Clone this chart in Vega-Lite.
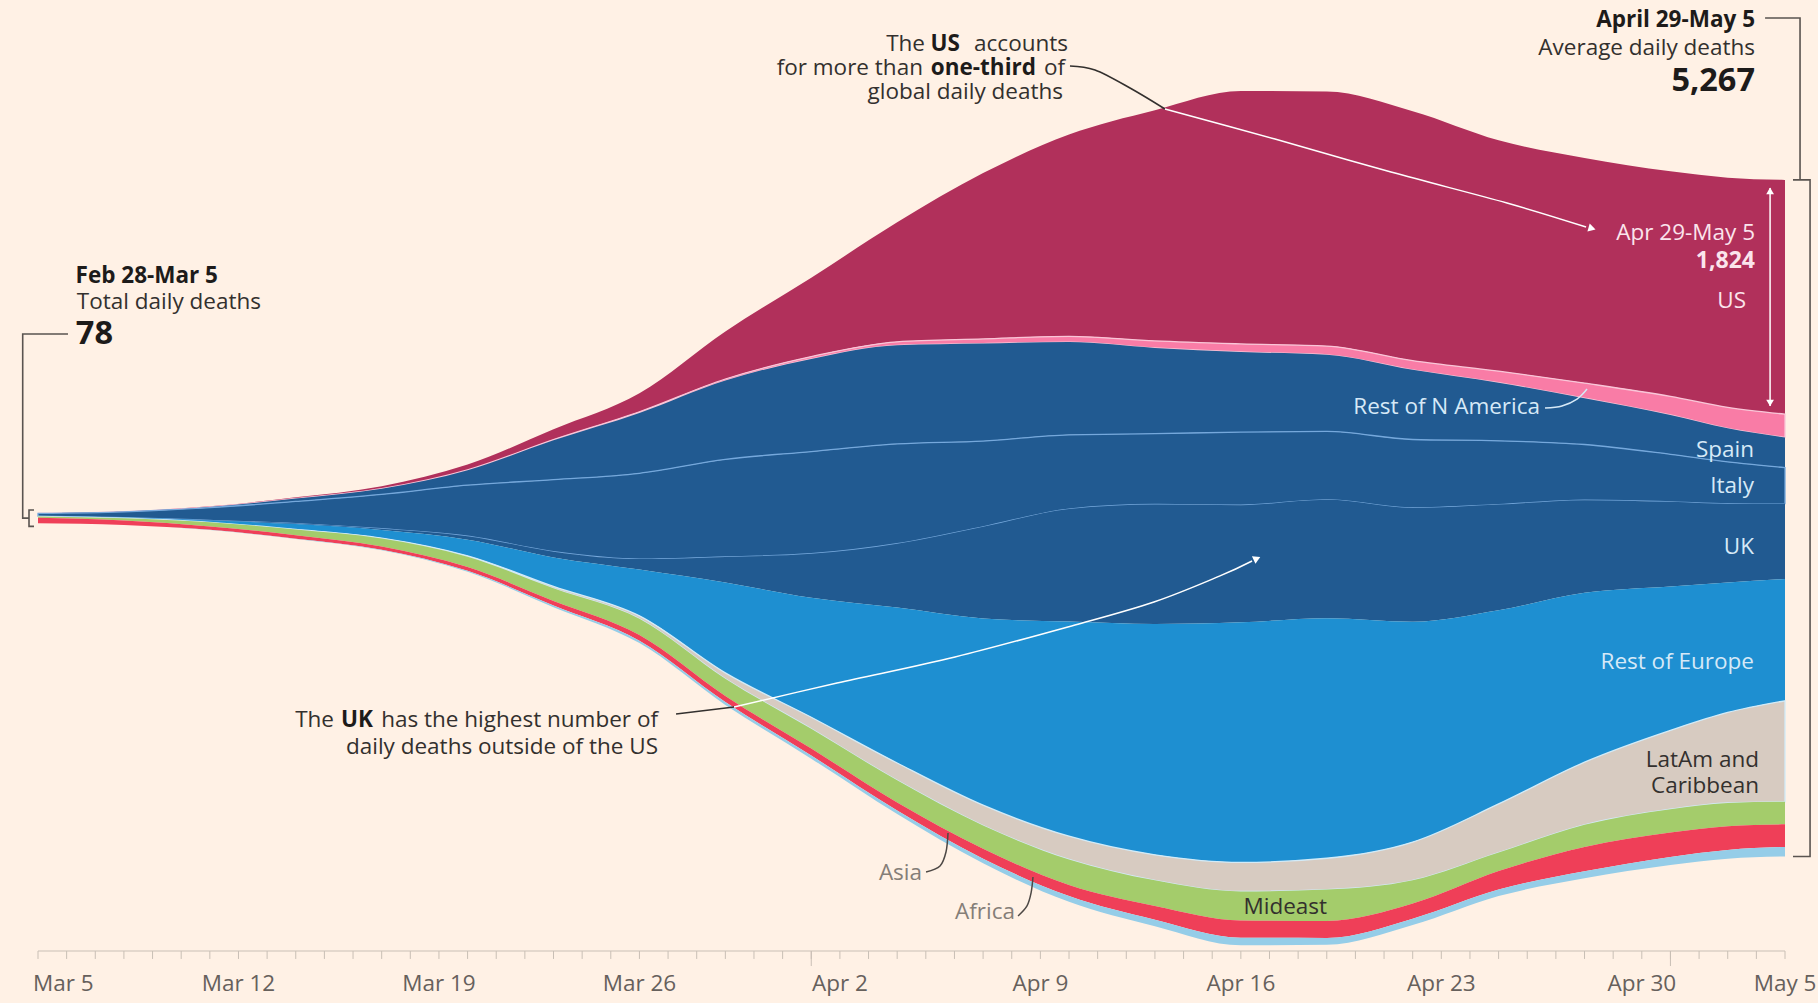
{
  "$schema": "https://vega.github.io/schema/vega-lite/v6.json",
  "width": 1747,
  "height": 860,
  "autosize": {"type": "none"},
  "padding": {"left": 38, "top": 91, "right": 33, "bottom": 52},
  "background": "#fff1e5",
  "config": {"view": {"stroke": null}, "text": {"font": "Open Sans"}},
  "datasets": {
    "deaths": [
      {"date": "2020-03-05", "US": 2, "RestNA": 0, "Spain": 0, "Italy": 21, "UK": 0, "RestEur": 2, "LatAm": 0, "Mideast": 11, "Asia": 42, "Africa": 0},
      {"date": "2020-03-08", "US": 2, "RestNA": 0, "Spain": 1, "Italy": 45, "UK": 0, "RestEur": 5, "LatAm": 0, "Mideast": 18, "Asia": 34, "Africa": 0},
      {"date": "2020-03-11", "US": 5, "RestNA": 0, "Spain": 5, "Italy": 99, "UK": 1, "RestEur": 14, "LatAm": 0, "Mideast": 32, "Asia": 27, "Africa": 1},
      {"date": "2020-03-14", "US": 9, "RestNA": 0, "Spain": 23, "Italy": 172, "UK": 4, "RestEur": 41, "LatAm": 1, "Mideast": 45, "Asia": 27, "Africa": 2},
      {"date": "2020-03-17", "US": 20, "RestNA": 0, "Spain": 45, "Italy": 267, "UK": 9, "RestEur": 63, "LatAm": 3, "Mideast": 63, "Asia": 25, "Africa": 4},
      {"date": "2020-03-20", "US": 41, "RestNA": 2, "Spain": 117, "Italy": 397, "UK": 27, "RestEur": 126, "LatAm": 7, "Mideast": 81, "Asia": 29, "Africa": 7},
      {"date": "2020-03-23", "US": 81, "RestNA": 5, "Spain": 307, "Italy": 560, "UK": 45, "RestEur": 226, "LatAm": 14, "Mideast": 99, "Asia": 36, "Africa": 12},
      {"date": "2020-03-26", "US": 144, "RestNA": 9, "Spain": 470, "Italy": 668, "UK": 81, "RestEur": 361, "LatAm": 23, "Mideast": 126, "Asia": 45, "Africa": 18},
      {"date": "2020-03-29", "US": 370, "RestNA": 12, "Spain": 614, "Italy": 759, "UK": 199, "RestEur": 704, "LatAm": 45, "Mideast": 135, "Asia": 47, "Africa": 22},
      {"date": "2020-04-01", "US": 614, "RestNA": 18, "Spain": 722, "Italy": 795, "UK": 343, "RestEur": 930, "LatAm": 90, "Mideast": 154, "Asia": 54, "Africa": 24},
      {"date": "2020-04-04", "US": 930, "RestNA": 27, "Spain": 768, "Italy": 777, "UK": 497, "RestEur": 1210, "LatAm": 135, "Mideast": 172, "Asia": 63, "Africa": 27},
      {"date": "2020-04-07", "US": 1291, "RestNA": 36, "Spain": 759, "Italy": 668, "UK": 713, "RestEur": 1454, "LatAm": 158, "Mideast": 181, "Asia": 77, "Africa": 36},
      {"date": "2020-04-10", "US": 1571, "RestNA": 45, "Spain": 722, "Italy": 578, "UK": 876, "RestEur": 1671, "LatAm": 181, "Mideast": 199, "Asia": 86, "Africa": 45},
      {"date": "2020-04-13", "US": 1797, "RestNA": 54, "Spain": 668, "Italy": 551, "UK": 930, "RestEur": 1797, "LatAm": 199, "Mideast": 199, "Asia": 108, "Africa": 50},
      {"date": "2020-04-16", "US": 1969, "RestNA": 63, "Spain": 623, "Italy": 569, "UK": 912, "RestEur": 1869, "LatAm": 226, "Mideast": 226, "Asia": 135, "Africa": 59},
      {"date": "2020-04-19", "US": 1982, "RestNA": 68, "Spain": 596, "Italy": 533, "UK": 921, "RestEur": 1869, "LatAm": 244, "Mideast": 244, "Asia": 132, "Africa": 54},
      {"date": "2020-04-22", "US": 1941, "RestNA": 72, "Spain": 542, "Italy": 533, "UK": 885, "RestEur": 1716, "LatAm": 298, "Mideast": 181, "Asia": 117, "Africa": 50},
      {"date": "2020-04-25", "US": 1797, "RestNA": 90, "Spain": 452, "Italy": 497, "UK": 822, "RestEur": 1508, "LatAm": 379, "Mideast": 144, "Asia": 144, "Africa": 50},
      {"date": "2020-04-28", "US": 1752, "RestNA": 117, "Spain": 361, "Italy": 433, "UK": 722, "RestEur": 1318, "LatAm": 488, "Mideast": 172, "Asia": 190, "Africa": 54},
      {"date": "2020-05-01", "US": 1752, "RestNA": 144, "Spain": 307, "Italy": 370, "UK": 659, "RestEur": 1120, "LatAm": 614, "Mideast": 181, "Asia": 190, "Africa": 63},
      {"date": "2020-05-03", "US": 1788, "RestNA": 163, "Spain": 262, "Italy": 325, "UK": 614, "RestEur": 1011, "LatAm": 704, "Mideast": 181, "Asia": 185, "Africa": 68},
      {"date": "2020-05-05", "US": 1824, "RestNA": 181, "Spain": 235, "Italy": 280, "UK": 587, "RestEur": 948, "LatAm": 786, "Mideast": 176, "Asia": 176, "Africa": 74}
    ],
    "regions": [
      {"region": "Africa", "rank": 1},
      {"region": "Asia", "rank": 2},
      {"region": "Mideast", "rank": 3},
      {"region": "LatAm", "rank": 4},
      {"region": "RestEur", "rank": 5},
      {"region": "UK", "rank": 6},
      {"region": "Italy", "rank": 7},
      {"region": "Spain", "rank": 8},
      {"region": "RestNA", "rank": 9},
      {"region": "US", "rank": 10}
    ],
    "days": [
      {"t": "2020-03-05"}, {"t": "2020-03-06"}, {"t": "2020-03-07"}, {"t": "2020-03-08"}, {"t": "2020-03-09"}, {"t": "2020-03-10"}, {"t": "2020-03-11"}, {"t": "2020-03-12"}, {"t": "2020-03-13"}, {"t": "2020-03-14"},
      {"t": "2020-03-15"}, {"t": "2020-03-16"}, {"t": "2020-03-17"}, {"t": "2020-03-18"}, {"t": "2020-03-19"}, {"t": "2020-03-20"}, {"t": "2020-03-21"}, {"t": "2020-03-22"}, {"t": "2020-03-23"}, {"t": "2020-03-24"},
      {"t": "2020-03-25"}, {"t": "2020-03-26"}, {"t": "2020-03-27"}, {"t": "2020-03-28"}, {"t": "2020-03-29"}, {"t": "2020-03-30"}, {"t": "2020-03-31"}, {"t": "2020-04-01"}, {"t": "2020-04-02"}, {"t": "2020-04-03"},
      {"t": "2020-04-04"}, {"t": "2020-04-05"}, {"t": "2020-04-06"}, {"t": "2020-04-07"}, {"t": "2020-04-08"}, {"t": "2020-04-09"}, {"t": "2020-04-10"}, {"t": "2020-04-11"}, {"t": "2020-04-12"}, {"t": "2020-04-13"},
      {"t": "2020-04-14"}, {"t": "2020-04-15"}, {"t": "2020-04-16"}, {"t": "2020-04-17"}, {"t": "2020-04-18"}, {"t": "2020-04-19"}, {"t": "2020-04-20"}, {"t": "2020-04-21"}, {"t": "2020-04-22"}, {"t": "2020-04-23"},
      {"t": "2020-04-24"}, {"t": "2020-04-25"}, {"t": "2020-04-26"}, {"t": "2020-04-27"}, {"t": "2020-04-28"}, {"t": "2020-04-29"}, {"t": "2020-04-30"}, {"t": "2020-05-01"}, {"t": "2020-05-02"}, {"t": "2020-05-03"},
      {"t": "2020-05-04"}, {"t": "2020-05-05"}
    ]
  },
  "layer": [
    {
      "data": {"name": "deaths"},
      "transform": [
        {"fold": ["US", "RestNA", "Spain", "Italy", "UK", "RestEur", "LatAm", "Mideast", "Asia", "Africa"], "as": ["region", "deaths"]},
        {"lookup": "region", "from": {"data": {"name": "regions"}, "key": "region", "fields": ["rank"]}}
      ],
      "mark": {"type": "area", "interpolate": "monotone", "strokeWidth": 1.3},
      "encoding": {
        "x": {"field": "date", "type": "temporal", "scale": {"type": "utc", "domain": [1583366400000, 1588636800000]}, "axis": null},
        "y": {
          "field": "deaths", "type": "quantitative", "stack": "center",
          "scale": {"domain": [-44, 6651], "nice": false, "zero": false},
          "axis": null
        },
        "color": {
          "field": "region", "type": "nominal", "legend": null,
          "scale": {
            "domain": ["US", "RestNA", "Spain", "Italy", "UK", "RestEur", "LatAm", "Mideast", "Asia", "Africa"],
            "range": ["#b1305b", "#f97ca6", "#215a91", "#215a91", "#215a91", "#1e8fd1", "#d7cbc1", "#a4cc6b", "#ef3f58", "#95cde8"]
          }
        },
        "stroke": {
          "field": "region", "type": "nominal", "legend": null,
          "scale": {
            "domain": ["US", "RestNA", "Spain", "Italy", "UK", "RestEur", "LatAm", "Mideast", "Asia", "Africa"],
            "range": ["rgba(0,0,0,0)", "#f9c6d8", "rgba(0,0,0,0)", "#75a8dc", "rgba(0,0,0,0)", "rgba(0,0,0,0)", "#d2ebf8", "rgba(0,0,0,0)", "rgba(0,0,0,0)", "rgba(0,0,0,0)"]
          }
        },
        "order": {"field": "rank", "type": "quantitative"}
      }
    },
    {
      "data": {"name": "days"},
      "mark": {"type": "rule", "color": "#c9bfb5", "strokeWidth": 1},
      "encoding": {
        "x": {"field": "t", "type": "temporal", "scale": {"type": "utc", "domain": [1583366400000, 1588636800000]}, "axis": null},
        "y": {"datum": -44, "type": "quantitative", "scale": {"domain": [-44, 6651], "nice": false, "zero": false}, "axis": null},
        "y2": {"datum": -106}
      }
    },
    {
      "data": {"values": [{"t": "2020-04-01"}, {"t": "2020-05-01"}]},
      "mark": {"type": "rule", "color": "#c9bfb5", "strokeWidth": 1},
      "encoding": {
        "x": {"field": "t", "type": "temporal", "scale": {"type": "utc", "domain": [1583366400000, 1588636800000]}, "axis": null},
        "y": {"datum": -44, "type": "quantitative", "scale": {"domain": [-44, 6651], "nice": false, "zero": false}, "axis": null},
        "y2": {"datum": -161}
      }
    },
    {
      "data": {"values": [{"t": "2020-03-05", "t2": "2020-05-05"}]},
      "mark": {"type": "rule", "color": "#c9bfb5", "strokeWidth": 1.2},
      "encoding": {
        "x": {"field": "t", "type": "temporal", "scale": {"type": "utc", "domain": [1583366400000, 1588636800000]}, "axis": null},
        "x2": {"field": "t2"},
        "y": {"datum": -44, "type": "quantitative", "scale": {"domain": [-44, 6651], "nice": false, "zero": false}, "axis": null}
      }
    },
    {
      "data": {"values": [
        {"label": "Mar 12", "t": "2020-03-12"},
        {"label": "Mar 19", "t": "2020-03-19"},
        {"label": "Mar 26", "t": "2020-03-26"},
        {"label": "Apr 2", "t": "2020-04-02"},
        {"label": "Apr 9", "t": "2020-04-09"},
        {"label": "Apr 16", "t": "2020-04-16"},
        {"label": "Apr 23", "t": "2020-04-23"},
        {"label": "Apr 30", "t": "2020-04-30"},
        {"label": "May 5", "t": "2020-05-05"}
      ]},
      "mark": {"type": "text", "align": "center", "baseline": "alphabetic", "font": "Open Sans", "fontSize": 22.5, "color": "#66605c"},
      "encoding": {
        "x": {"field": "t", "type": "temporal", "scale": {"type": "utc", "domain": [1583366400000, 1588636800000]}, "axis": null},
        "y": {"datum": -355, "type": "quantitative", "scale": {"domain": [-44, 6651], "nice": false, "zero": false}, "axis": null},
        "text": {"field": "label"}
      }
    },
    {
      "data": {"values": [
        {"label": "Mar 5", "t": "2020-03-04T19:49:00Z"}
      ]},
      "mark": {"type": "text", "align": "left", "baseline": "alphabetic", "font": "Open Sans", "fontSize": 22.5, "color": "#66605c"},
      "encoding": {
        "x": {"field": "t", "type": "temporal", "scale": {"type": "utc", "domain": [1583366400000, 1588636800000]}, "axis": null},
        "y": {"datum": -355, "type": "quantitative", "scale": {"domain": [-44, 6651], "nice": false, "zero": false}, "axis": null},
        "text": {"field": "label"}
      }
    },
    {
      "data": {"values": [
        {"p": "A", "i": 1, "t": "2020-03-06T01:08:00Z", "v": 4759},
        {"p": "A", "i": 2, "t": "2020-03-04T11:11:00Z", "v": 4759},
        {"p": "A", "i": 3, "t": "2020-03-04T11:11:00Z", "v": 3325.5},
        {"p": "A", "i": 4, "t": "2020-03-04T16:28:00Z", "v": 3325.5},
        {"p": "B", "i": 1, "t": "2020-03-04T20:39:00Z", "v": 3389},
        {"p": "B", "i": 2, "t": "2020-03-04T16:28:00Z", "v": 3389},
        {"p": "B", "i": 3, "t": "2020-03-04T16:28:00Z", "v": 3262},
        {"p": "B", "i": 4, "t": "2020-03-04T20:39:00Z", "v": 3262},
        {"p": "C", "i": 1, "t": "2020-05-04T07:18:00Z", "v": 7219},
        {"p": "C", "i": 2, "t": "2020-05-05T12:36:00Z", "v": 7219},
        {"p": "C", "i": 3, "t": "2020-05-05T12:36:00Z", "v": 5959},
        {"p": "D", "i": 1, "t": "2020-05-05T06:42:00Z", "v": 5959},
        {"p": "D", "i": 2, "t": "2020-05-05T21:00:00Z", "v": 5959},
        {"p": "D", "i": 3, "t": "2020-05-05T21:00:00Z", "v": 692},
        {"p": "D", "i": 4, "t": "2020-05-05T06:42:00Z", "v": 692}
      ]},
      "mark": {"type": "line", "color": "#5a5450", "strokeWidth": 1.6},
      "encoding": {
        "x": {"field": "t", "type": "temporal", "scale": {"type": "utc", "domain": [1583366400000, 1588636800000]}, "axis": null},
        "y": {"field": "v", "type": "quantitative", "scale": {"domain": [-44, 6651], "nice": false, "zero": false}, "axis": null},
        "detail": {"field": "p"},
        "order": {"field": "i", "type": "quantitative"}
      }
    },
    {
      "data": {"values": [
        {"p": "F", "i": 1, "t": "2020-04-10T00:48:00Z", "v": 6846},
        {"p": "F", "i": 2, "t": "2020-04-10T21:48:00Z", "v": 6814},
        {"p": "F", "i": 3, "t": "2020-04-12T03:06:00Z", "v": 6674},
        {"p": "F", "i": 4, "t": "2020-04-13T08:24:00Z", "v": 6511},
        {"p": "H", "i": 1, "t": "2020-03-27T06:42:00Z", "v": 1801},
        {"p": "H", "i": 2, "t": "2020-03-29T07:18:00Z", "v": 1856}
      ]},
      "mark": {"type": "line", "color": "#33302e", "strokeWidth": 1.6, "interpolate": "cardinal"},
      "encoding": {
        "x": {"field": "t", "type": "temporal", "scale": {"type": "utc", "domain": [1583366400000, 1588636800000]}, "axis": null},
        "y": {"field": "v", "type": "quantitative", "scale": {"domain": [-44, 6651], "nice": false, "zero": false}, "axis": null},
        "detail": {"field": "p"},
        "order": {"field": "i", "type": "quantitative"}
      }
    },
    {
      "data": {"values": [
        {"p": "E", "i": 1, "t": "2020-05-04T11:30:00Z", "v": 5896},
        {"p": "E", "i": 2, "t": "2020-05-04T11:30:00Z", "v": 4199},
        {"p": "G", "i": 1, "t": "2020-04-13T08:24:00Z", "v": 6511},
        {"p": "G", "i": 2, "t": "2020-04-17T04:36:00Z", "v": 6277},
        {"p": "G", "i": 3, "t": "2020-04-21T05:48:00Z", "v": 6020},
        {"p": "G", "i": 4, "t": "2020-04-25T07:00:00Z", "v": 5779},
        {"p": "G", "i": 5, "t": "2020-04-28T01:18:00Z", "v": 5592},
        {"p": "I", "i": 1, "t": "2020-03-29T07:18:00Z", "v": 1856},
        {"p": "I", "i": 2, "t": "2020-04-01T21:36:00Z", "v": 2042},
        {"p": "I", "i": 3, "t": "2020-04-06T00:30:00Z", "v": 2245},
        {"p": "I", "i": 4, "t": "2020-04-10T05:00:00Z", "v": 2494},
        {"p": "I", "i": 5, "t": "2020-04-12T23:12:00Z", "v": 2673},
        {"p": "I", "i": 6, "t": "2020-04-15T06:30:00Z", "v": 2876},
        {"p": "I", "i": 7, "t": "2020-04-16T09:24:00Z", "v": 2992}
      ]},
      "mark": {"type": "line", "color": "#ffffff", "strokeWidth": 1.5, "interpolate": "cardinal"},
      "encoding": {
        "x": {"field": "t", "type": "temporal", "scale": {"type": "utc", "domain": [1583366400000, 1588636800000]}, "axis": null},
        "y": {"field": "v", "type": "quantitative", "scale": {"domain": [-44, 6651], "nice": false, "zero": false}, "axis": null},
        "detail": {"field": "p"},
        "order": {"field": "i", "type": "quantitative"}
      }
    },
    {
      "data": {"values": [
        {"p": "J", "i": 1, "t": "2020-04-05T00:12:00Z", "v": 571},
        {"p": "J", "i": 2, "t": "2020-04-05T11:54:00Z", "v": 618},
        {"p": "J", "i": 3, "t": "2020-04-05T16:54:00Z", "v": 727},
        {"p": "J", "i": 4, "t": "2020-04-05T18:36:00Z", "v": 875},
        {"p": "K", "i": 1, "t": "2020-04-08T05:18:00Z", "v": 229},
        {"p": "K", "i": 2, "t": "2020-04-08T12:48:00Z", "v": 307},
        {"p": "K", "i": 3, "t": "2020-04-08T16:12:00Z", "v": 408},
        {"p": "K", "i": 4, "t": "2020-04-08T17:48:00Z", "v": 532}
      ]},
      "mark": {"type": "line", "color": "#4d4845", "strokeWidth": 1.5, "interpolate": "cardinal"},
      "encoding": {
        "x": {"field": "t", "type": "temporal", "scale": {"type": "utc", "domain": [1583366400000, 1588636800000]}, "axis": null},
        "y": {"field": "v", "type": "quantitative", "scale": {"domain": [-44, 6651], "nice": false, "zero": false}, "axis": null},
        "detail": {"field": "p"},
        "order": {"field": "i", "type": "quantitative"}
      }
    },
    {
      "data": {"values": [
        {"p": "M", "i": 1, "t": "2020-04-26T14:54:00Z", "v": 4183},
        {"p": "M", "i": 2, "t": "2020-04-27T05:06:00Z", "v": 4199},
        {"p": "M", "i": 3, "t": "2020-04-27T17:42:00Z", "v": 4253},
        {"p": "M", "i": 4, "t": "2020-04-28T02:06:00Z", "v": 4331}
      ]},
      "mark": {"type": "line", "color": "#d6e9f7", "strokeWidth": 1.5, "interpolate": "cardinal"},
      "encoding": {
        "x": {"field": "t", "type": "temporal", "scale": {"type": "utc", "domain": [1583366400000, 1588636800000]}, "axis": null},
        "y": {"field": "v", "type": "quantitative", "scale": {"domain": [-44, 6651], "nice": false, "zero": false}, "axis": null},
        "detail": {"field": "p"},
        "order": {"field": "i", "type": "quantitative"}
      }
    },
    {
      "data": {"values": [{"t": "2020-04-28T06:18:00Z", "v": 5581}]},
      "mark": {"type": "point", "shape": "triangle-right", "filled": true, "color": "#ffffff", "opacity": 1, "size": 70, "angle": 16},
      "encoding": {
        "x": {"field": "t", "type": "temporal", "scale": {"type": "utc", "domain": [1583366400000, 1588636800000]}, "axis": null},
        "y": {"field": "v", "type": "quantitative", "scale": {"domain": [-44, 6651], "nice": false, "zero": false}, "axis": null}
      }
    },
    {
      "data": {"values": [{"t": "2020-04-16T13:30:00Z", "v": 3012}]},
      "mark": {"type": "point", "shape": "triangle-right", "filled": true, "color": "#ffffff", "opacity": 1, "size": 70, "angle": 335},
      "encoding": {
        "x": {"field": "t", "type": "temporal", "scale": {"type": "utc", "domain": [1583366400000, 1588636800000]}, "axis": null},
        "y": {"field": "v", "type": "quantitative", "scale": {"domain": [-44, 6651], "nice": false, "zero": false}, "axis": null}
      }
    },
    {
      "data": {"values": [{"t": "2020-05-04T11:30:00Z", "v": 5873}]},
      "mark": {"type": "point", "shape": "triangle-up", "filled": true, "color": "#ffffff", "opacity": 1, "size": 60},
      "encoding": {
        "x": {"field": "t", "type": "temporal", "scale": {"type": "utc", "domain": [1583366400000, 1588636800000]}, "axis": null},
        "y": {"field": "v", "type": "quantitative", "scale": {"domain": [-44, 6651], "nice": false, "zero": false}, "axis": null}
      }
    },
    {
      "data": {"values": [{"t": "2020-05-04T11:30:00Z", "v": 4222}]},
      "mark": {"type": "point", "shape": "triangle-down", "filled": true, "color": "#ffffff", "opacity": 1, "size": 60},
      "encoding": {
        "x": {"field": "t", "type": "temporal", "scale": {"type": "utc", "domain": [1583366400000, 1588636800000]}, "axis": null},
        "y": {"field": "v", "type": "quantitative", "scale": {"domain": [-44, 6651], "nice": false, "zero": false}, "axis": null}
      }
    },
    {
      "data": {"values": [
        {"label": "Total daily deaths", "t": "2020-03-12T18:53:00Z", "v": 4954},
        {"label": "The", "t": "2020-04-04T23:18:00Z", "v": 6966},
        {"label": "accounts", "t": "2020-04-09T23:10:00Z", "v": 6966},
        {"label": "for more than", "t": "2020-04-04T21:36:00Z", "v": 6776},
        {"label": "of", "t": "2020-04-09T20:39:00Z", "v": 6776},
        {"label": "global daily deaths", "t": "2020-04-09T18:58:00Z", "v": 6585},
        {"label": "The", "t": "2020-03-15T08:03:00Z", "v": 1700},
        {"label": "has the highest number of", "t": "2020-03-26T15:34:00Z", "v": 1700},
        {"label": "daily deaths outside of the US", "t": "2020-03-26T15:34:00Z", "v": 1490},
        {"label": "Average daily deaths", "t": "2020-05-03T22:53:00Z", "v": 6931},
        {"label": "LatAm and", "t": "2020-05-04T02:14:00Z", "v": 1389},
        {"label": "Caribbean", "t": "2020-05-04T02:14:00Z", "v": 1186},
        {"label": "Mideast", "t": "2020-04-19T00:13:00Z", "v": 244}
      ]},
      "mark": {"type": "text", "align": "right", "baseline": "alphabetic", "font": "Open Sans", "fontSize": 22.5, "color": "#33302e"},
      "encoding": {
        "x": {"field": "t", "type": "temporal", "scale": {"type": "utc", "domain": [1583366400000, 1588636800000]}, "axis": null},
        "y": {"field": "v", "type": "quantitative", "scale": {"domain": [-44, 6651], "nice": false, "zero": false}, "axis": null},
        "text": {"field": "label"}
      }
    },
    {
      "data": {"values": [
        {"label": "Feb 28-Mar 5", "t": "2020-03-11T06:50:00Z", "v": 5156},
        {"label": "US", "t": "2020-04-06T04:39:00Z", "v": 6966},
        {"label": "one-third", "t": "2020-04-08T20:18:00Z", "v": 6776},
        {"label": "UK", "t": "2020-03-16T16:42:00Z", "v": 1700},
        {"label": "April 29-May 5", "t": "2020-05-03T22:53:00Z", "v": 7152}
      ]},
      "mark": {"type": "text", "align": "right", "baseline": "alphabetic", "font": "Open Sans", "fontSize": 22.5, "fontWeight": "bold", "color": "#1d1b1a"},
      "encoding": {
        "x": {"field": "t", "type": "temporal", "scale": {"type": "utc", "domain": [1583366400000, 1588636800000]}, "axis": null},
        "y": {"field": "v", "type": "quantitative", "scale": {"domain": [-44, 6651], "nice": false, "zero": false}, "axis": null},
        "text": {"field": "label"}
      }
    },
    {
      "data": {"values": [
        {"label": "78", "t": "2020-03-07T14:51:00Z", "v": 4681},
        {"label": "5,267", "t": "2020-05-03T22:53:00Z", "v": 6653}
      ]},
      "mark": {"type": "text", "align": "right", "baseline": "alphabetic", "font": "Open Sans", "fontSize": 32.5, "fontWeight": "bold", "color": "#1d1b1a"},
      "encoding": {
        "x": {"field": "t", "type": "temporal", "scale": {"type": "utc", "domain": [1583366400000, 1588636800000]}, "axis": null},
        "y": {"field": "v", "type": "quantitative", "scale": {"domain": [-44, 6651], "nice": false, "zero": false}, "axis": null},
        "text": {"field": "label"}
      }
    },
    {
      "data": {"values": [
        {"label": "Rest of N America", "t": "2020-04-26T10:42:00Z", "v": 4137},
        {"label": "Spain", "t": "2020-05-03T22:02:00Z", "v": 3802},
        {"label": "Italy", "t": "2020-05-03T22:02:00Z", "v": 3522},
        {"label": "UK", "t": "2020-05-03T22:02:00Z", "v": 3047},
        {"label": "Rest of Europe", "t": "2020-05-03T22:02:00Z", "v": 2152}
      ]},
      "mark": {"type": "text", "align": "right", "baseline": "alphabetic", "font": "Open Sans", "fontSize": 22.5, "color": "#d6e9f7"},
      "encoding": {
        "x": {"field": "t", "type": "temporal", "scale": {"type": "utc", "domain": [1583366400000, 1588636800000]}, "axis": null},
        "y": {"field": "v", "type": "quantitative", "scale": {"domain": [-44, 6651], "nice": false, "zero": false}, "axis": null},
        "text": {"field": "label"}
      }
    },
    {
      "data": {"values": [
        {"label": "Apr 29-May 5", "t": "2020-05-03T22:53:00Z", "v": 5491},
        {"label": "US", "t": "2020-05-03T15:20:00Z", "v": 4962}
      ]},
      "mark": {"type": "text", "align": "right", "baseline": "alphabetic", "font": "Open Sans", "fontSize": 22.5, "color": "#fbe4ec"},
      "encoding": {
        "x": {"field": "t", "type": "temporal", "scale": {"type": "utc", "domain": [1583366400000, 1588636800000]}, "axis": null},
        "y": {"field": "v", "type": "quantitative", "scale": {"domain": [-44, 6651], "nice": false, "zero": false}, "axis": null},
        "text": {"field": "label"}
      }
    },
    {
      "data": {"values": [
        {"label": "1,824", "t": "2020-05-03T22:53:00Z", "v": 5273}
      ]},
      "mark": {"type": "text", "align": "right", "baseline": "alphabetic", "font": "Open Sans", "fontSize": 23, "fontWeight": "bold", "color": "#fbe4ec"},
      "encoding": {
        "x": {"field": "t", "type": "temporal", "scale": {"type": "utc", "domain": [1583366400000, 1588636800000]}, "axis": null},
        "y": {"field": "v", "type": "quantitative", "scale": {"domain": [-44, 6651], "nice": false, "zero": false}, "axis": null},
        "text": {"field": "label"}
      }
    },
    {
      "data": {"values": [
        {"label": "Asia", "t": "2020-04-04T20:49:00Z", "v": 509},
        {"label": "Africa", "t": "2020-04-08T02:44:00Z", "v": 205}
      ]},
      "mark": {"type": "text", "align": "right", "baseline": "alphabetic", "font": "Open Sans", "fontSize": 22.5, "color": "#857e78"},
      "encoding": {
        "x": {"field": "t", "type": "temporal", "scale": {"type": "utc", "domain": [1583366400000, 1588636800000]}, "axis": null},
        "y": {"field": "v", "type": "quantitative", "scale": {"domain": [-44, 6651], "nice": false, "zero": false}, "axis": null},
        "text": {"field": "label"}
      }
    }
  ]
}
